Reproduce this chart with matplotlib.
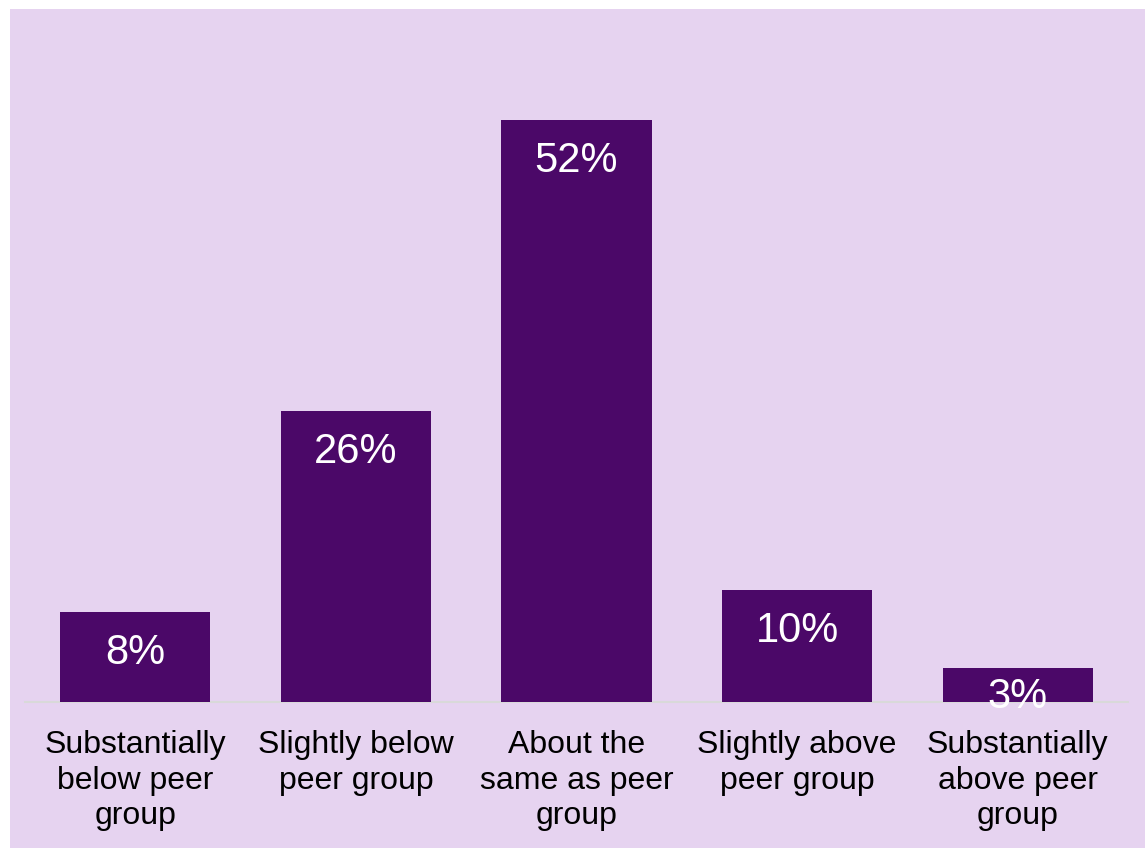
import matplotlib
matplotlib.use("Agg")
import matplotlib.pyplot as plt
from matplotlib.patches import Rectangle

categories = [
    "Substantially\nbelow peer\ngroup",
    "Slightly below\npeer group",
    "About the\nsame as peer\ngroup",
    "Slightly above\npeer group",
    "Substantially\nabove peer\ngroup",
]
values = [8, 26, 52, 10, 3]
value_labels = ["8%", "26%", "52%", "10%", "3%"]

W, H, DPI = 1145, 852, 100
BG = "#E6D3F0"
BAR = "#4B0868"

plt.rcParams["font.family"] = ["Liberation Sans", "DejaVu Sans"]

fig = plt.figure(figsize=(W / DPI, H / DPI), dpi=DPI, facecolor="white")
fig.patches.append(Rectangle((10 / W, 4 / H), 1 - 10 / W, (H - 9 - 4) / H,
                             transform=fig.transFigure, facecolor=BG,
                             edgecolor="none", zorder=-5))

ax = fig.add_axes([25 / W, (H - 702) / H, (1128 - 25) / W, (702 - 30) / H])
ax.set_facecolor("none")
ax.set_zorder(1)
ax.set_xlim(-0.5, len(values) - 0.5)
ax.set_ylim(0, 60)

x = range(len(values))
ax.bar(x, values, width=0.68, color=BAR, zorder=2)

# labels sit inside the bar top; short bars pull the label up toward the edge
px_per_unit = (702 - 30) / 60.0
for xi, v, lab in zip(x, values, value_labels):
    bar_px = v * px_per_unit
    off = min(41, 0.75 * bar_px + 3)
    ax.annotate(lab, (xi, v), xytext=(0, -off * 72 / DPI), textcoords="offset points",
                ha="center", va="center", color="white", fontsize=30, zorder=3)

ax.set_xticks(list(x))
ax.set_xticklabels(categories, fontsize=23, color="black", linespacing=1.22)
ax.tick_params(axis="x", length=0, pad=20.5)
ax.set_yticks([])
for s in ("left", "right", "top"):
    ax.spines[s].set_visible(False)
ax.spines["bottom"].set_color("#D9D9D9")
ax.spines["bottom"].set_linewidth(1.5)
ax.spines["bottom"].set_zorder(1)

fig.savefig("out.png", dpi=DPI, facecolor="white")
